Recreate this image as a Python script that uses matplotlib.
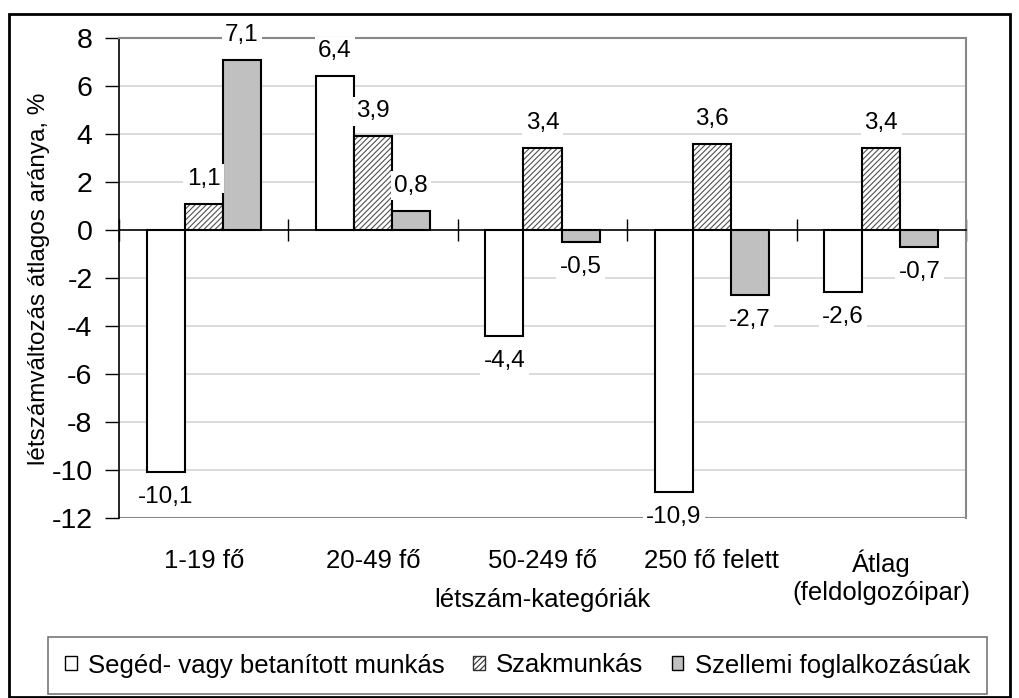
import numpy as np
import matplotlib
matplotlib.use("Agg")
import matplotlib.pyplot as plt
from matplotlib.patches import Rectangle, Patch

plt.rcParams['font.family'] = ['Liberation Sans', 'DejaVu Sans']
plt.rcParams['hatch.linewidth'] = 0.8

# data
categories = ["1-19 fő", "20-49 fő", "50-249 fő", "250 fő felett", "Átlag\n(feldolgozóipar)"]
series_names = ["Segéd- vagy betanított munkás", "Szakmunkás", "Szellemi foglalkozásúak"]
seged = [-10.1, 6.4, -4.4, -10.9, -2.6]
szakmunkas = [1.1, 3.9, 3.4, 3.6, 3.4]
szellemi = [7.1, 0.8, -0.5, -2.7, -0.7]
yticks = [-12, -10, -8, -6, -4, -2, 0, 2, 4, 6, 8]

W, H = 1020, 698
fig = plt.figure(figsize=(W / 100, H / 100), dpi=100)
ax = fig.add_axes([119 / W, 1 - 518 / H, (966 - 119) / W, (518 - 38) / H])

x = np.arange(len(categories))
w = 0.225
fills = ["white", "white", "#c0c0c0"]
hatches = [None, "//////", None]
all_vals = [seged, szakmunkas, szellemi]
handles = []
for i, vals in enumerate(all_vals):
    xs = x + (i - 1) * w
    if hatches[i]:
        # hatch in grey, outline drawn separately in black
        ax.bar(xs, vals, w, facecolor=fills[i], edgecolor="#505050",
               hatch=hatches[i], linewidth=0, zorder=3)
        bars = ax.bar(xs, vals, w, fill=False, edgecolor="black", linewidth=1.5, zorder=3)
    else:
        bars = ax.bar(xs, vals, w, facecolor=fills[i], edgecolor="black",
                      linewidth=1.5, zorder=3)
    handles.append(Patch(facecolor=fills[i], edgecolor="#303030" if hatches[i] else "black",
                         hatch=hatches[i], linewidth=1.0))
    for b, v in zip(bars, vals):
        off = 18 if v >= 0 else -18
        ax.annotate(("%.1f" % v).replace(".", ","),
                    xy=(b.get_x() + b.get_width() / 2, v), xytext=(0, off),
                    textcoords="offset points", ha="center", va="center",
                    fontsize=17.5, zorder=5, annotation_clip=False,
                    bbox=dict(facecolor="white", edgecolor="none", pad=2.5))

ax.set_xlim(-0.5, 4.5)
ax.set_ylim(-12, 8)
ax.set_yticks(yticks)
ax.set_yticklabels([str(t) for t in yticks], fontsize=20.5)
ax.tick_params(axis="y", direction="out", length=10, width=1, pad=9)

# gridlines and plot area frame
for t in yticks:
    if t not in (0, 8, -12):
        ax.axhline(t, color="#d4d4d4", lw=1.2, zorder=1)
ax.axhline(-12, color="#888888", lw=1.5, zorder=1)
ax.spines["top"].set_color("#888888")
ax.spines["top"].set_linewidth(1.5)
ax.spines["right"].set_color("#888888")
ax.spines["right"].set_linewidth(1.5)
ax.spines["left"].set_linewidth(1.2)
ax.spines["bottom"].set_position(("data", 0))
ax.spines["bottom"].set_linewidth(1.2)
ax.spines["bottom"].set_zorder(4)

ax.set_xticks(np.arange(-0.5, 5, 1.0))
ax.set_xticklabels([])
ax.tick_params(axis="x", direction="inout", length=16, width=1)

for xi, c in zip(x, categories):
    ax.text(xi, -0.065, c, transform=ax.get_xaxis_transform(), ha="center",
            va="top", fontsize=18.5, linespacing=1.25)

ax.text(0.5, -0.171, "létszám-kategóriák", transform=ax.transAxes,
        ha="center", va="center", fontsize=18.5)
fig.text(39 / W, 1 - 279 / H, "létszámváltozás átlagos aránya, %", rotation=90,
         ha="center", va="center", fontsize=17.5)

leg = fig.legend(handles=handles, labels=series_names, ncol=3,
                 loc="center", bbox_to_anchor=(517.5 / W, 1 - 665.5 / H),
                 fontsize=18.5, frameon=True, fancybox=False, handlelength=0.45,
                 handleheight=0.45, handletextpad=0.45, columnspacing=1.1,
                 borderpad=0.65, borderaxespad=0)
leg.get_frame().set_edgecolor("#555555")
leg.get_frame().set_linewidth(1.2)

fig.patches.append(Rectangle((9 / W, 1 - 697 / H), (1010 - 9) / W, (697 - 14) / H,
                             transform=fig.transFigure, fill=False,
                             edgecolor="black", linewidth=2))

fig.savefig("out.png", dpi=100)
